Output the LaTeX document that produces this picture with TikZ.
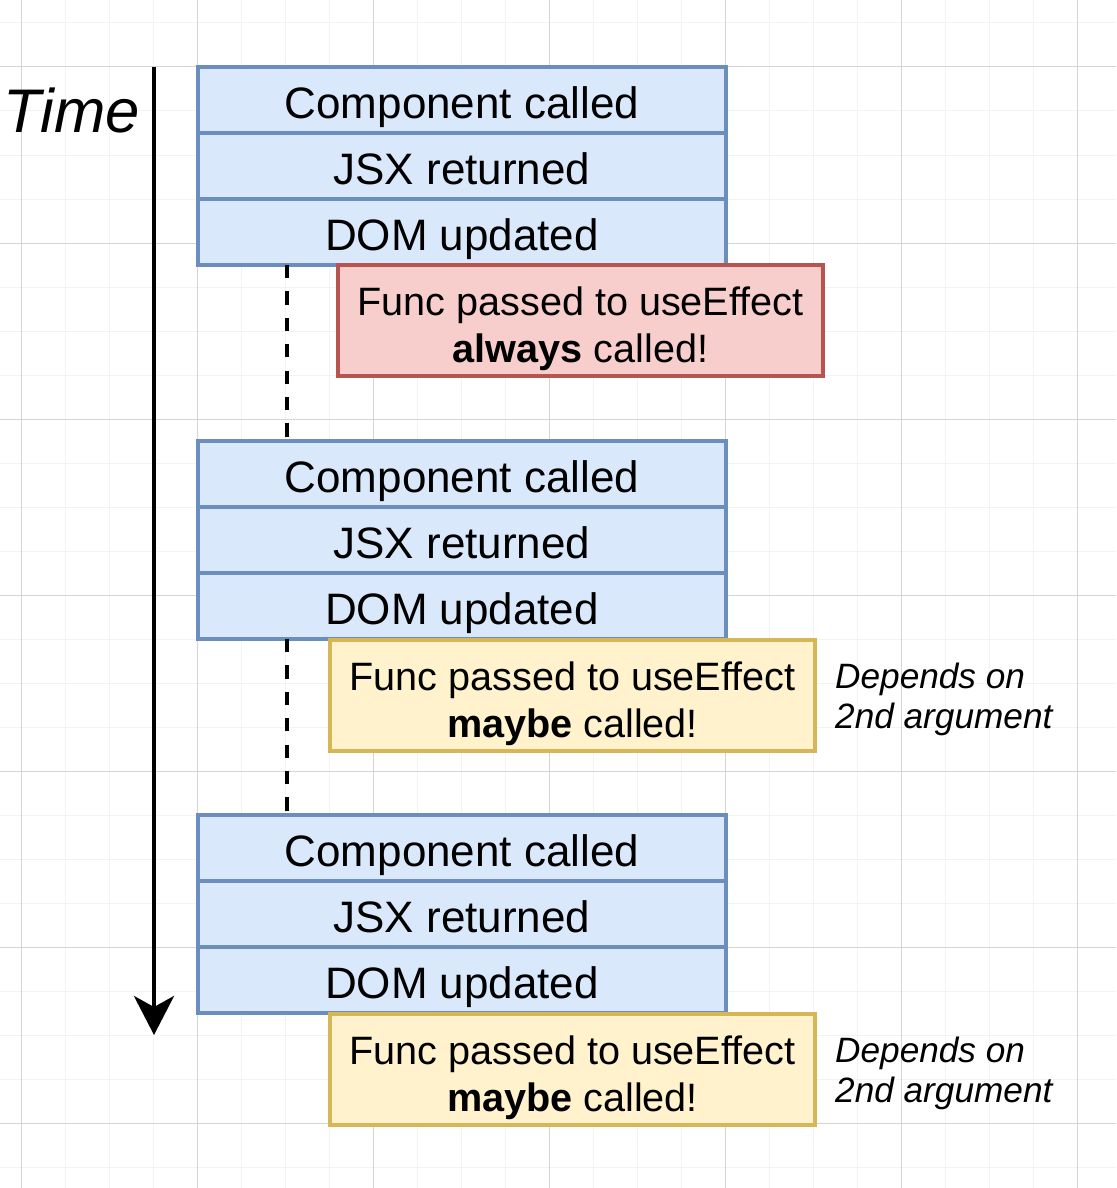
\documentclass[tikz,border=0pt]{standalone}
\usepackage{fontspec}
\setmainfont{Liberation Sans}
\usetikzlibrary{positioning,arrows.meta}
\definecolor{blueFill}{HTML}{DAE8FC}
\definecolor{blueLine}{HTML}{6C8EBF}
\definecolor{redFill}{HTML}{F8CECC}
\definecolor{redLine}{HTML}{B85450}
\definecolor{yelFill}{HTML}{FFF2CC}
\definecolor{yelLine}{HTML}{D6B656}
\definecolor{gridMinor}{HTML}{F3F3F3}
\definecolor{gridMajor}{HTML}{D5D5D5}
\begin{document}
\begin{tikzpicture}[x=1pt, y=-1pt,
        row/.style={draw=blueLine, fill=blueFill, line width=3.3pt, minimum width=528pt, minimum height=66pt,
            inner sep=0pt, outer sep=0pt, text height=40pt, text depth=4pt, font=\fontsize{44}{53}\selectfont},
        note/.style={line width=3.3pt, minimum width=485pt, minimum height=111pt, inner sep=0pt, outer sep=0pt,
            align=center, font=\fontsize{39.6}{47.4}\selectfont},
        hint/.style={inner sep=0pt, align=left, font=\fontsize{35.2}{40}\selectfont\itshape},
        timeline/.style={line width=4.4pt, -{Stealth[length=39pt, width=40pt, inset=11pt]}},
        dashline/.style={line width=4.4pt, dash pattern=on 13.2pt off 13.2pt}]
        \fill[white] (0,0) rectangle (1116,1188);
        \useasboundingbox (0,0) rectangle (1116,1188);

        \foreach \gx in {21.5,65.5,...,1116} \draw[gridMinor, line width=1pt] (\gx,0) -- (\gx,1188);
        \foreach \gy in {23,67,...,1188} \draw[gridMinor, line width=1pt] (0,\gy) -- (1116,\gy);
        \foreach \gx in {21.5,197.5,...,1116} \draw[gridMajor, line width=1pt] (\gx,0) -- (\gx,1188);
        \foreach \gy in {67,243,...,1188} \draw[gridMajor, line width=1pt] (0,\gy) -- (1116,\gy);

        \coordinate (tTop) at (154, 67);
        \coordinate (tEnd) at (154, 1035);

        \node[inner sep=0pt, font=\fontsize{61.6}{70}\selectfont\itshape] (time) at (72, 110) {Time};
        \draw[timeline] (tTop) -- (tEnd);

        \foreach \g/\top in {1/100, 2/474, 3/848} {
            \node[row] (comp\g) at (462, \top) {Component called};
            \node[row, below=0pt of comp\g] (jsx\g) {JSX returned};
            \node[row, below=0pt of jsx\g] (dom\g) {DOM updated};
        }

        \draw[dashline] ([xshift=89pt]dom1.south west) -- ([xshift=89pt]comp2.north west);
        \draw[dashline] ([xshift=89pt]dom2.south west) -- ([xshift=89pt]comp3.north west);

        \node[note, draw=redLine, fill=redFill, anchor=north west] (alw1) at ([xshift=140pt]dom1.south west)
            {\rule{0pt}{45pt}Func passed to useEffect\\\textbf{always} called!};
        \node[note, draw=yelLine, fill=yelFill, anchor=north west] (may1) at ([xshift=132pt, yshift=-1pt]dom2.south west)
            {\rule{0pt}{45pt}Func passed to useEffect\\\textbf{maybe} called!};
        \node[note, draw=yelLine, fill=yelFill, anchor=north west] (may2) at ([xshift=132pt, yshift=-1pt]dom3.south west)
            {\rule{0pt}{45pt}Func passed to useEffect\\\textbf{maybe} called!};

        \node[hint, anchor=west] (dep1) at ([xshift=20pt]may1.east) {\rule{0pt}{33pt}Depends on\\2nd argument};
        \node[hint, anchor=west] (dep2) at ([xshift=20pt]may2.east) {\rule{0pt}{33pt}Depends on\\2nd argument};
    \end{tikzpicture}
\end{document}
